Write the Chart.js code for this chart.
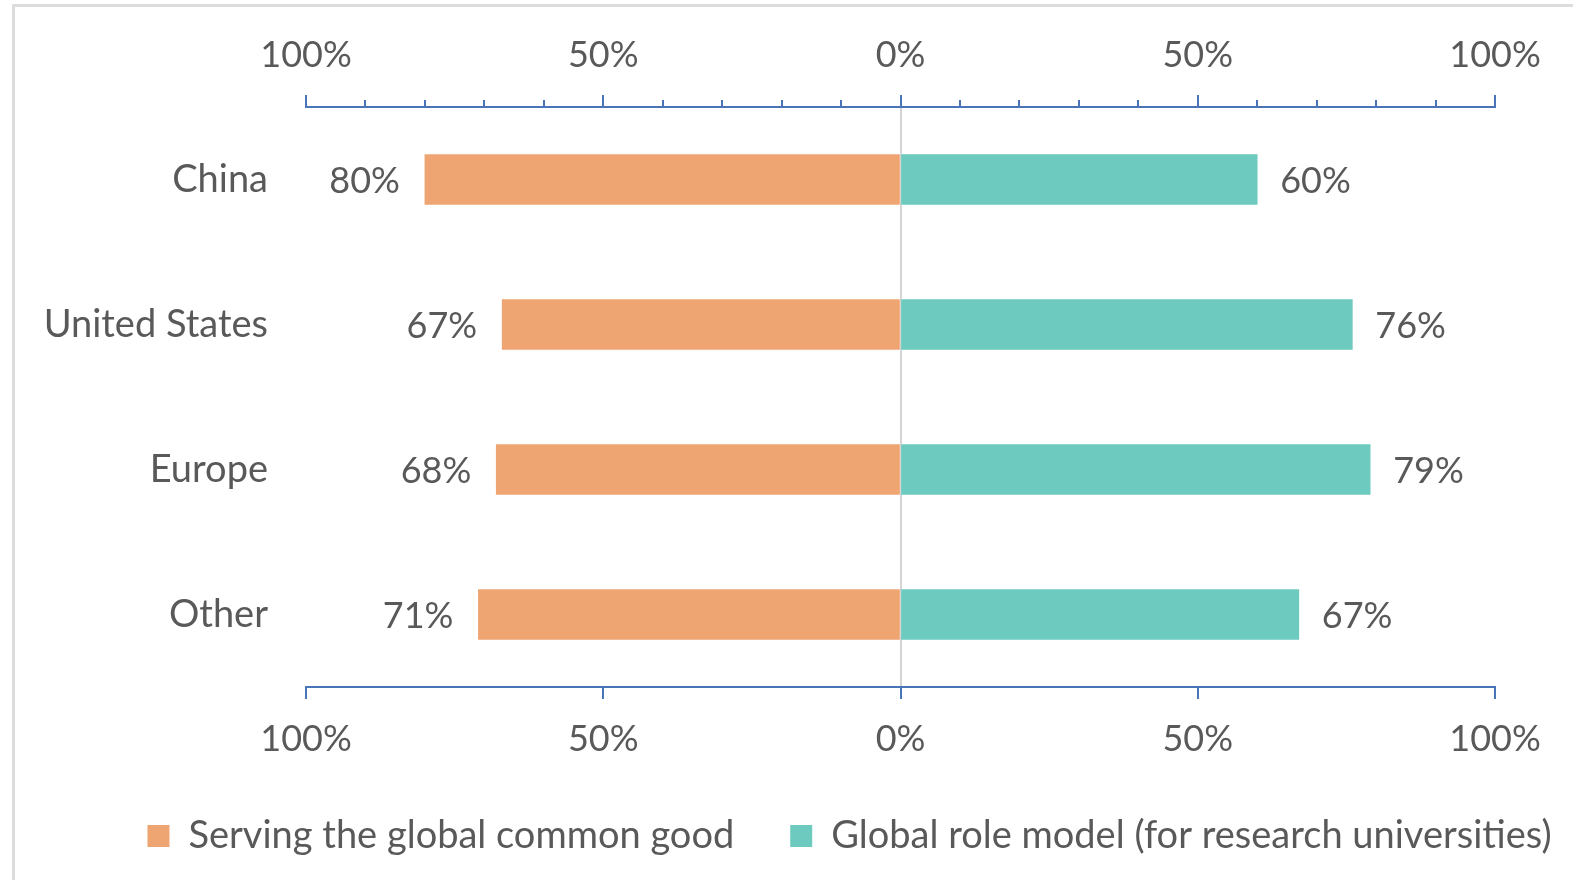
<!DOCTYPE html>
<html>
<head>
<meta charset="utf-8">
<script src="https://cdn.jsdelivr.net/npm/chart.js@4.4.1/dist/chart.umd.min.js"></script>
<style>
  html, body { margin: 0; padding: 0; background: #fff; overflow: hidden; }
  #page { position: relative; width: 1573px; height: 880px; overflow: hidden; background: #fff; }
  #frame { position: absolute; left: 12px; top: 4px; width: 2000px; height: 2000px; border: 3px solid #dcdcdc; }
  #chart { position: absolute; left: 0; top: 0; }
</style>
</head>
<body>
<div id="page">
  <div id="frame"></div>
  <canvas id="chart" width="1800" height="880"></canvas>
</div>
<script>
// ---- data ----
const regions = ['China', 'United States', 'Europe', 'Other'];
const commonGood = [80, 67, 68, 71];      // left side
const roleModel = [60, 76, 79, 67];       // right side
const seriesNames = ['Serving the global common good', 'Global role model (for research universities)'];
const axisTicks = [-100, -50, 0, 50, 100];

const ORANGE = '#EFA572';
const TEAL = '#6DCABF';
const AXIS = '#4A74B8';
const TEXT = '#595959';
const FONT = 'Lato';

const LEG_FONT = 38, LEG_BOX = 22, LEG_PAD = 56;
const PLOT_RIGHT = 1495, LEG_START = 147;

Chart.defaults.font.family = FONT;
Chart.defaults.color = TEXT;

// canvas is wider than the page so the legend runs off the right edge, like the source image
const mctx = document.createElement('canvas').getContext('2d');
mctx.font = LEG_FONT + 'px ' + FONT;
const legItems = seriesNames.reduce((s, t) => s + LEG_BOX + LEG_FONT / 2 + mctx.measureText(t).width, 0);
const W = Math.ceil(2 * LEG_START + legItems + LEG_PAD);
const canvas = document.getElementById('chart');
canvas.width = W;

// tick marks on top/bottom axes + value labels beside the bars
const decor = {
  id: 'decor',
  afterDraw(chart) {
    const { ctx, chartArea } = chart;
    const sx = chart.scales.x;
    ctx.save();
    ctx.strokeStyle = AXIS;
    ctx.lineWidth = 2;
    for (let v = -100; v <= 100; v += 10) {
      const px = Math.round(sx.getPixelForValue(v));
      const major = v % 50 === 0;
      ctx.beginPath();
      ctx.moveTo(px, chartArea.top);
      ctx.lineTo(px, chartArea.top - (major ? 12 : 7));
      ctx.stroke();
      if (major) {
        ctx.beginPath();
        ctx.moveTo(px, chartArea.bottom);
        ctx.lineTo(px, chartArea.bottom + 12);
        ctx.stroke();
      }
    }
    // value labels
    ctx.font = '36px ' + FONT;
    ctx.fillStyle = TEXT;
    ctx.textBaseline = 'middle';
    chart.data.datasets.forEach((ds, di) => {
      const meta = chart.getDatasetMeta(di);
      meta.data.forEach((bar, i) => {
        const val = Math.abs(ds.data[i]) + '%';
        if (ds.data[i] < 0) {
          ctx.textAlign = 'right';
          ctx.fillText(val, bar.x - 25, bar.y + 2);
        } else {
          ctx.textAlign = 'left';
          ctx.fillText(val, bar.x + 23, bar.y + 2);
        }
      });
    });
    ctx.restore();
  }
};

const pctLabel = v => axisTicks.includes(v) ? Math.abs(v) + '%' : '';

new Chart(canvas, {
  type: 'bar',
  data: {
    labels: regions,
    datasets: [
      { label: seriesNames[0], data: commonGood.map(v => -v), backgroundColor: ORANGE, barThickness: 50 },
      { label: seriesNames[1], data: roleModel, backgroundColor: TEAL, barThickness: 50 }
    ]
  },
  options: {
    indexAxis: 'y',
    responsive: false,
    devicePixelRatio: 1,
    animation: false,
    layout: { padding: { top: 34, left: 0, right: 0, bottom: 15 } },
    scales: {
      x: {
        position: 'top', min: -100, max: 100, stacked: true,
        ticks: { stepSize: 50, padding: 30, font: { size: 36 }, color: TEXT, callback: pctLabel, maxRotation: 0 },
        grid: { drawTicks: false, lineWidth: 2, color: c => c.tick && c.tick.value === 0 ? '#D4D4D4' : 'rgba(0,0,0,0)' },
        border: { display: true, color: AXIS, width: 2 },
        afterFit(s) { s.height = 73; }
      },
      x2: {
        position: 'bottom', min: -100, max: 100, type: 'linear',
        ticks: { stepSize: 50, padding: 31, font: { size: 36 }, color: TEXT, callback: pctLabel, maxRotation: 0 },
        grid: { drawTicks: false, drawOnChartArea: false },
        border: { display: true, color: AXIS, width: 2 },
        afterFit(s) { s.height = 74; }
      },
      y: {
        stacked: true,
        ticks: { padding: 38, font: { size: 38 }, color: TEXT },
        grid: { display: false, drawTicks: false },
        border: { display: false },
        afterFit(s) { s.width = 306; }
      },
      yR: {
        position: 'right', type: 'category',
        ticks: { display: false },
        grid: { display: false, drawTicks: false },
        border: { display: false },
        afterFit(s) { s.width = W - PLOT_RIGHT; }
      }
    },
    plugins: {
      legend: {
        position: 'bottom', align: 'center',
        labels: { boxWidth: LEG_BOX, boxHeight: LEG_BOX, padding: LEG_PAD, color: TEXT, font: { size: LEG_FONT } }
      },
      tooltip: { enabled: false }
    }
  },
  plugins: [decor]
});
</script>
</body>
</html>
